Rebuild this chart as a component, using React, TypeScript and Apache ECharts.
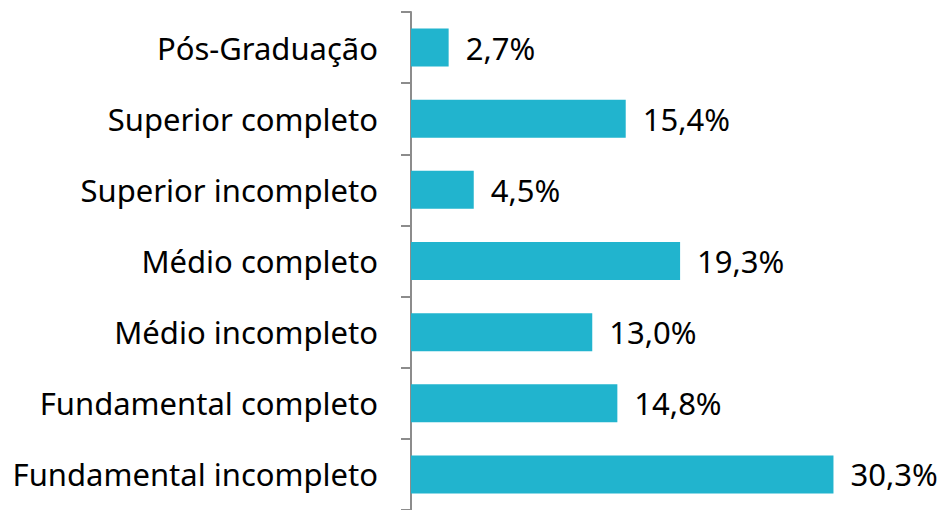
import React, { useEffect, useRef } from "react";
import * as echarts from "echarts";

const categories = [
  "Pós-Graduação",
  "Superior completo",
  "Superior incompleto",
  "Médio completo",
  "Médio incompleto",
  "Fundamental completo",
  "Fundamental incompleto",
];
const values = [2.7, 15.4, 4.5, 19.3, 13.0, 14.8, 30.3];

const FONT = "'Noto Sans', sans-serif";

export default function App() {
  const ref = useRef<HTMLDivElement>(null);
  useEffect(() => {
    if (!ref.current) return;
    const chart = echarts.init(ref.current, null, { renderer: "svg" });
    chart.setOption({
      animation: false,
      backgroundColor: "#ffffff",
      grid: { left: 411, top: 12, width: 488, height: 502 },
      xAxis: {
        type: "value",
        min: 0,
        max: 35,
        show: false,
      },
      yAxis: {
        type: "category",
        data: categories,
        inverse: true,
        axisLine: { show: true, lineStyle: { color: "#8c8c8c", width: 2 } },
        axisTick: { show: true, length: 10, lineStyle: { color: "#8c8c8c", width: 2 } },
        axisLabel: {
          margin: 33,
          color: "#000000",
          fontFamily: FONT,
          fontSize: 31,
        },
        splitLine: { show: false },
      },
      series: [
        {
          type: "bar",
          data: values,
          barWidth: 38,
          itemStyle: { color: "#21B4CE" },
          label: {
            show: true,
            position: "right",
            distance: 17,
            color: "#000000",
            fontFamily: FONT,
            fontSize: 31,
            formatter: (p: any) => p.value.toFixed(1).replace(".", ",") + "%",
          },
        },
      ],
    });
    return () => chart.dispose();
  }, []);
  return <div ref={ref} style={{ width: 945, height: 510, position: "absolute", left: 0, top: 0 }} />;
}
